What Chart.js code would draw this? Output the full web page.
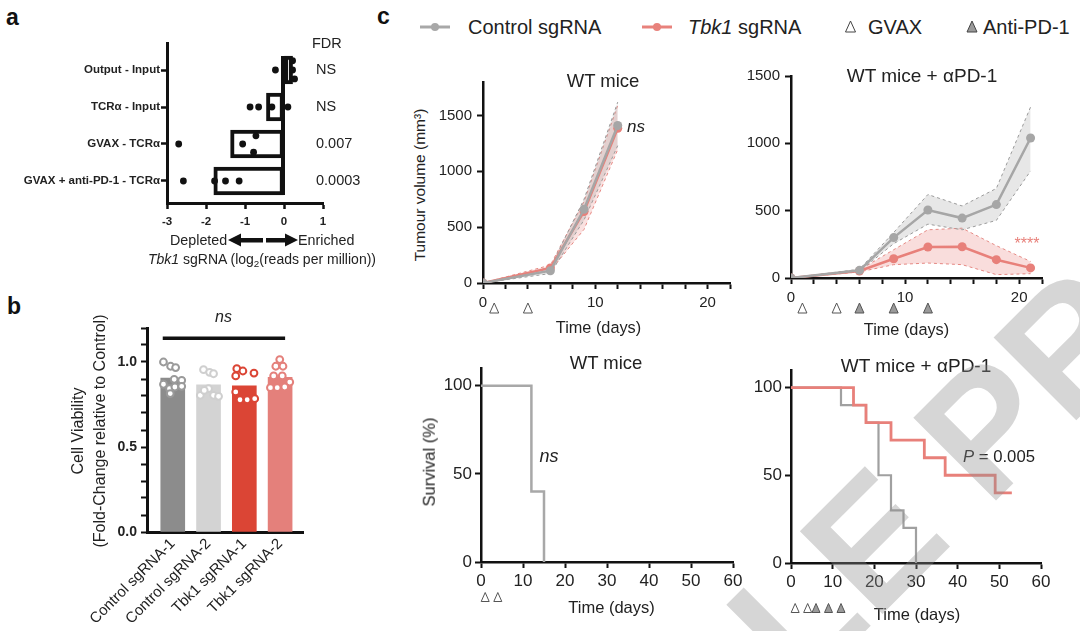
<!DOCTYPE html>
<html><head><meta charset="utf-8">
<script src="https://cdn.jsdelivr.net/npm/chart.js@4.4.1/dist/chart.umd.min.js"></script>
<style>
html,body{margin:0;padding:0;background:#fff;}
#root{position:relative;width:1080px;height:631px;overflow:hidden;font-family:'Liberation Sans',Arial,Helvetica,sans-serif;color:#222;background:#fff;}
canvas{position:absolute;}
.t{position:absolute;white-space:nowrap;line-height:1;}
.c{transform:translate(-50%,-50%);}
.l{transform:translate(0,-50%);}
.r90{transform:translate(-50%,-50%) rotate(-90deg);}
#wm{position:absolute;white-space:nowrap;line-height:1;font-size:170px;font-weight:bold;color:rgba(140,140,140,0.36);transform-origin:0 50%;transform:rotate(-45deg);pointer-events:none;}
</style></head>
<body><div id="root">
<svg id="deco" width="1080" height="631" style="position:absolute;left:0;top:0">
  <polygon points="228,240 241,233.5 241,246.5" fill="#111"/>
  <rect x="240" y="238" width="23" height="4.5" fill="#111"/>
  <rect x="266" y="238" width="20" height="4.5" fill="#111"/>
  <polygon points="298,240 285,233.5 285,246.5" fill="#111"/>
  <line x1="420" y1="27" x2="450" y2="27" stroke="#a8a8a8" stroke-width="3"/>
  <circle cx="435" cy="27" r="4" fill="#a8a8a8"/>
  <line x1="642" y1="27" x2="672" y2="27" stroke="#e8827c" stroke-width="3"/>
  <circle cx="657" cy="27" r="4" fill="#e8827c"/>
  <polygon points="850.5,21 855.5,32 845.5,32" fill="#fff" stroke="#444" stroke-width="1"/>
  <polygon points="972,21 977,32 967,32" fill="#9a9a9a" stroke="#444" stroke-width="1"/>
</svg>
</div>
<script>
// ================= DATA =================
// Panel a
const aRows = ['Output - Input', 'TCRα - Input', 'GVAX - TCRα', 'GVAX + anti-PD-1 - TCRα'];
const aBars = [0.22, -0.45, -1.37, -1.8];
const aFDR = ['NS', 'NS', '0.007', '0.0003'];
const aDotRow    = [1, 1, 1, 1,   2, 2, 2, 2,   3, 3, 3, 3,   4, 4, 4, 4];
const aDotValue  = [-0.22, 0.22, 0.22, 0.27,  -0.87, -0.65, -0.31, 0.1,  -2.7, -1.06, -0.72, -0.78,  -2.58, -1.78, -1.5, -1.15];
const aDotJitter = [0, -0.25, 0, 0.24,  0, 0, 0, 0,  0, 0, -0.22, 0.22,  0, 0, 0, 0];
const aXTicks = [-3, -2, -1, 0, 1];

// Panel b
const bLabels = ['Control sgRNA-1', 'Control sgRNA-2', 'Tbk1 sgRNA-1', 'Tbk1 sgRNA-2'];
const bMeans = [0.906, 0.865, 0.86, 0.91];
const bReps = [
  [1.0, 0.975, 0.967, 0.898, 0.892, 0.869, 0.843, 0.853, 0.857, 0.814],
  [0.955, 0.939, 0.931, 0.804, 0.843, 0.804, 0.798, 0.833],
  [0.961, 0.918, 0.947, 0.935, 0.824, 0.778, 0.778, 0.784],
  [1.014, 0.975, 0.975, 0.918, 0.918, 0.849, 0.849, 0.853, 0.882]
];
const bRepJitter = [
  [-0.26, -0.06, 0.08, 0.04, 0.25, -0.26, -0.09, 0.06, 0.25, -0.07],
  [-0.14, 0.03, 0.14, -0.23, 0, 0.14, 0.28, -0.12],
  [-0.21, -0.24, -0.04, 0.27, -0.24, -0.12, 0.08, 0.29],
  [-0.01, -0.12, 0.08, -0.18, 0.06, -0.27, -0.08, 0.13, 0.27]
];
const bYTicks = [0, 0.1, 0.2, 0.3, 0.4, 0.5, 0.6, 0.7, 0.8, 0.9, 1.0, 1.1, 1.2];

// Panel c - tumour growth, WT mice
const tgDaysWT = [0, 6, 9, 12];
const tgCtrlWT = [0, 110, 660, 1410];
const tgCtrlWTUp = [0, 140, 750, 1620];
const tgCtrlWTLo = [0, 85, 565, 1230];
const tgTbkWT = [0, 135, 640, 1385];
const tgTbkWTUp = [0, 160, 730, 1590];
const tgTbkWTLo = [0, 110, 480, 1195];
// Panel c - tumour growth, WT mice + aPD-1
const tgDaysPD1 = [0, 6, 9, 12, 15, 18, 21];
const tgCtrlPD1 = [0, 57, 300, 505, 445, 545, 1040];
const tgCtrlPD1Up = [0, 65, 338, 620, 535, 665, 1270];
const tgCtrlPD1Lo = [0, 50, 255, 400, 358, 428, 795];
const tgTbkPD1 = [0, 52, 143, 230, 232, 136, 75];
const tgTbkPD1Up = [0, 60, 210, 358, 370, 240, 123];
const tgTbkPD1Lo = [0, 45, 99, 111, 99, 25, 32];
// treatment days
const gvaxDays = [1, 4];
const antiPD1Days = [6, 9, 12];
// survival
const svWTCtrlDays = [0, 12, 15];
const svWTCtrl = [100, 40, 0];
const svPD1CtrlDays = [0, 12, 18, 21, 24, 27, 30];
const svPD1Ctrl = [100, 90, 80, 50, 30, 20, 0];
const svPD1TbkDays = [0, 15, 18, 24, 32, 37, 49, 53];
const svPD1Tbk = [100, 90, 80, 70, 60, 50, 40, 40];
const tgXTicks = [0, 2, 4, 6, 8, 10, 12, 14, 16, 18, 20, 22];
const tgYTicks = [0, 500, 1000, 1500];
const svXTicks = [0, 10, 20, 30, 40, 50, 60];
const svYTicks = [0, 50, 100];

// ================= HELPERS =================
const FF = "'Liberation Sans', Arial, Helvetica, sans-serif";
Chart.defaults.font.family = FF;
Chart.defaults.color = '#222';
const root = document.getElementById('root');
const GREY = '#a6a6a6', RED = '#e8807a';

Chart.register({
  id: 'treat',
  afterDraw(chart, args, o) {
    if (!o || o.dy === undefined) return;
    const ctx = chart.ctx, xs = chart.scales.x, y = chart.chartArea.bottom + o.dy;
    const tri = (d, fill) => {
      const x = xs.getPixelForValue(d);
      ctx.beginPath();
      ctx.moveTo(x, y - o.h / 2); ctx.lineTo(x + o.w / 2, y + o.h / 2); ctx.lineTo(x - o.w / 2, y + o.h / 2);
      ctx.closePath(); ctx.fillStyle = fill; ctx.fill();
      ctx.lineWidth = 1; ctx.strokeStyle = '#555'; ctx.stroke();
    };
    ctx.save();
    (o.open || []).forEach(d => tri(d, '#fff'));
    (o.filled || []).forEach(d => tri(d, '#9a9a9a'));
    ctx.restore();
  }
});

function linScale(o) {
  return {
    type: 'linear', min: o.min, max: o.max, reverse: !!o.reverse, offset: false,
    afterBuildTicks: s => { s.ticks = o.ticks.map(v => ({ value: v })); },
    ticks: {
      callback: o.cb || (v => String(v)), autoSkip: false,
      font: { size: o.fs, weight: o.fw || 'normal', family: FF }, color: '#222',
      padding: o.tp === undefined ? 4 : o.tp, maxRotation: o.rot || 0, minRotation: o.rot || 0
    },
    grid: { display: o.tl > 0, drawOnChartArea: false, drawTicks: true, tickLength: o.tl || 0, tickWidth: o.tw || 2, tickColor: '#111', offset: false },
    border: { display: true, color: '#111', width: o.bw || 2.5 }
  };
}

function makeChart(area, pad, config) {
  const cv = document.createElement('canvas');
  const L = area.l - pad.l, T = area.t - pad.t;
  const W = area.r - area.l + pad.l + pad.r, H = area.b - area.t + pad.t + pad.b;
  cv.width = W; cv.height = H;
  cv.style.left = L + 'px'; cv.style.top = T + 'px'; cv.style.width = W + 'px'; cv.style.height = H + 'px';
  root.appendChild(cv);
  const op = config.options;
  op.responsive = false; op.animation = false; op.devicePixelRatio = 1;
  op.layout = { padding: { left: 0, top: pad.t, right: pad.r, bottom: 0 } };
  op.plugins = Object.assign({ legend: { display: false }, tooltip: { enabled: false } }, op.plugins || {});
  op.scales.x.afterFit = s => { s.height = pad.b; s.paddingLeft = 0; s.paddingRight = 0; };
  op.scales.y.afterFit = s => { s.width = pad.l; s.paddingTop = 0; s.paddingBottom = 0; };
  return new Chart(cv, config);
}

function txt(html, x, y, size, cls, extra) {
  const d = document.createElement('div');
  d.className = 't ' + (cls || 'c');
  d.innerHTML = html;
  d.style.left = x + 'px'; d.style.top = y + 'px'; d.style.fontSize = size + 'px';
  if (extra) d.style.cssText += extra;
  root.appendChild(d);
}
const pts = (xs, ys) => xs.map((x, i) => ({ x: x, y: ys[i] }));

// ================= PANEL A =================
makeChart({ l: 167, t: 43, r: 323, b: 203 }, { l: 160, t: 10, r: 50, b: 30 }, {
  type: 'bar',
  data: { datasets: [
    { type: 'bar', data: aBars.map((v, i) => ({ x: v, y: i + 1 })), backgroundColor: '#fff', borderColor: '#111',
      borderWidth: 4, borderSkipped: false, barThickness: 28, order: 2 },
    { type: 'scatter', data: aDotValue.map((v, i) => ({ x: v, y: aDotRow[i] + aDotJitter[i] })),
      pointRadius: 3.4, backgroundColor: '#111', borderWidth: 0, order: 1 }
  ] },
  options: {
    indexAxis: 'y',
    scales: {
      x: linScale({ min: -3, max: 1, ticks: aXTicks, fs: 11.5, fw: 'bold', tl: 6, tp: 6, bw: 3, tw: 2.5 }),
      y: linScale({ min: 0.27, max: 4.595, reverse: true, ticks: [1, 2, 3, 4], cb: v => aRows[v - 1], fs: 11.5, fw: 'bold', tl: 6, tp: 1, bw: 3, tw: 2.5 })
    }
  },
  plugins: [{ id: 'aExtra', afterDatasetsDraw(chart) {
    const { ctx, scales: { x, y }, chartArea } = chart;
    ctx.save();
    ctx.strokeStyle = '#111'; ctx.lineWidth = 4;
    const x0 = x.getPixelForValue(0) - 1;
    ctx.beginPath(); ctx.moveTo(x0, y.getPixelForValue(1) - 14); ctx.lineTo(x0, y.getPixelForValue(aRows.length) + 14); ctx.stroke();
    ctx.fillStyle = '#222'; ctx.font = '14.5px ' + FF; ctx.textBaseline = 'middle'; ctx.textAlign = 'left';
    ctx.fillText('FDR', chartArea.right - 11, chartArea.top + 1);
    aFDR.forEach((t, i) => ctx.fillText(t, chartArea.right - 7, y.getPixelForValue(i + 1)));
    ctx.restore();
  } }]
});

// ================= PANEL B =================
const bColors = ['#8c8c8c', '#d3d3d3', '#db4535', '#e4807b'];
const bDotColors = ['#9a9a9a', '#cfcfcf', '#db4535', '#e4807b'];
makeChart({ l: 147, t: 328, r: 303, b: 532 }, { l: 87, t: 10, r: 12, b: 99 }, {
  type: 'bar',
  data: { datasets: [
    { type: 'bar', data: bMeans.map((v, i) => ({ x: i + 1, y: v })), backgroundColor: bColors, borderWidth: 0, barThickness: 24, order: 2 }
  ].concat(bReps.map((arr, g) => ({
    type: 'scatter', data: arr.map((v, k) => ({ x: g + 1 + bRepJitter[g][k], y: v })),
    pointRadius: 3.4, borderWidth: 2, borderColor: bDotColors[g], backgroundColor: '#fff', order: 1
  }))) },
  options: {
    scales: {
      x: linScale({ min: 0.28, max: 4.64, ticks: [1, 2, 3, 4], cb: v => bLabels[v - 1], fs: 15, rot: 45, tl: 0, tp: 3, bw: 3 }),
      y: linScale({ min: 0, max: 1.2, ticks: bYTicks, fs: 14, fw: 'bold', tl: 6, tp: 4, bw: 3, tw: 2,
        cb: v => ([0, 0.5, 1].some(m => Math.abs(v - m) < 1e-9) ? v.toFixed(1) : '') })
    }
  },
  plugins: [{ id: 'bLine', afterDatasetsDraw(chart) {
    const { ctx, scales: { x, y } } = chart;
    ctx.save(); ctx.strokeStyle = '#111'; ctx.lineWidth = 3.5;
    ctx.beginPath(); ctx.moveTo(x.getPixelForValue(0.72), y.getPixelForValue(1.14)); ctx.lineTo(x.getPixelForValue(4.14), y.getPixelForValue(1.14)); ctx.stroke();
    ctx.restore();
  } }]
});

// ================= PANEL C =================
function band(days, up, lo, color, fillc) {
  return [
    { data: pts(days, up), borderColor: color, borderWidth: 1, borderDash: [3, 3], pointRadius: 0, fill: '+1', backgroundColor: fillc, order: 5 },
    { data: pts(days, lo), borderColor: color, borderWidth: 1, borderDash: [3, 3], pointRadius: 0, fill: false, order: 5 }
  ];
}
function meanLine(days, vals, color, order) {
  return { data: pts(days, vals), borderColor: color, borderWidth: 2.5, pointRadius: 4.5, pointBackgroundColor: color, pointBorderWidth: 0, fill: false, order: order };
}
const tgX = () => linScale({ min: 0, max: 22, ticks: tgXTicks, cb: v => (v % 10 === 0 ? String(v) : ''), fs: 15, tl: 6, tp: 5, bw: 2.5 });

makeChart({ l: 483, t: 82, r: 730, b: 283 }, { l: 53, t: 10, r: 18, b: 37 }, {
  type: 'line',
  data: { datasets: [
    ...band(tgDaysWT, tgCtrlWTUp, tgCtrlWTLo, '#9a9a9a', 'rgba(160,160,160,0.25)'),
    ...band(tgDaysWT, tgTbkWTUp, tgTbkWTLo, '#e58a85', 'rgba(230,120,115,0.22)'),
    meanLine(tgDaysWT, tgTbkWT, RED, 2),
    meanLine(tgDaysWT, tgCtrlWT, GREY, 1)
  ] },
  options: {
    scales: { x: tgX(), y: linScale({ min: 0, max: 1800, ticks: tgYTicks, fs: 15, tl: 6, tp: 5, bw: 2.5 }) },
    plugins: { treat: { open: gvaxDays, filled: [], dy: 25, w: 9, h: 10 } }
  }
});

makeChart({ l: 791, t: 76, r: 1042, b: 278 }, { l: 51, t: 10, r: 28, b: 42 }, {
  type: 'line',
  data: { datasets: [
    ...band(tgDaysPD1, tgCtrlPD1Up, tgCtrlPD1Lo, '#9a9a9a', 'rgba(160,160,160,0.25)'),
    ...band(tgDaysPD1, tgTbkPD1Up, tgTbkPD1Lo, '#e58a85', 'rgba(230,120,115,0.25)'),
    meanLine(tgDaysPD1, tgTbkPD1, RED, 2),
    meanLine(tgDaysPD1, tgCtrlPD1, GREY, 1)
  ] },
  options: {
    scales: { x: tgX(), y: linScale({ min: 0, max: 1500, ticks: tgYTicks, fs: 15, tl: 6, tp: 5, bw: 2.5 }) },
    plugins: { treat: { open: gvaxDays, filled: antiPD1Days, dy: 30, w: 9, h: 10 } }
  }
});

function survLine(days, vals, color, w) {
  return { data: pts(days, vals), stepped: 'before', borderColor: color, borderWidth: w, pointRadius: 0, fill: false };
}
const svX = () => linScale({ min: 0, max: 60, ticks: svXTicks, fs: 17, tl: 6, tp: 3, bw: 2.5 });

makeChart({ l: 481, t: 368, r: 733, b: 562 }, { l: 51, t: 10, r: 17, b: 69 }, {
  type: 'line',
  data: { datasets: [ survLine(svWTCtrlDays, svWTCtrl, '#a8a8a8', 2.5) ] },
  options: {
    scales: { x: svX(), y: linScale({ min: 0, max: 110, ticks: svYTicks, fs: 17, tl: 6, tp: 3, bw: 2.5 }) },
    plugins: { treat: { open: gvaxDays, filled: [], dy: 35, w: 8, h: 9 } }
  }
});

makeChart({ l: 791, t: 370, r: 1041, b: 563 }, { l: 51, t: 10, r: 34, b: 68 }, {
  type: 'line',
  data: { datasets: [ survLine(svPD1TbkDays, svPD1Tbk, RED, 2.8), survLine(svPD1CtrlDays, svPD1Ctrl, '#a0a0a0', 2.2) ] },
  options: {
    scales: { x: svX(), y: linScale({ min: 0, max: 110, ticks: svYTicks, fs: 17, tl: 6, tp: 3, bw: 2.5 }) },
    plugins: { treat: { open: gvaxDays, filled: antiPD1Days, dy: 45, w: 8, h: 9 } }
  }
});

// ================= TEXT =================
txt('a', 6, 17, 23, 'l', 'font-weight:bold;color:#111');
txt('b', 7, 306, 23, 'l', 'font-weight:bold;color:#111');
txt('c', 377, 16, 23, 'l', 'font-weight:bold;color:#111');
// legend
txt('Control sgRNA', 468, 27, 20, 'l');
txt('<i>Tbk1</i> sgRNA', 688, 27, 20, 'l');
txt('GVAX', 868, 27, 20, 'l');
txt('Anti-PD-1', 983, 27, 20, 'l');
// panel a
txt('Depleted', 170, 240, 14.3, 'l');
txt('Enriched', 298, 240, 14.3, 'l');
txt('<i>Tbk1</i> sgRNA (log<span style="font-size:0.7em;vertical-align:-0.3em;line-height:0">2</span>(reads per million))', 262, 259, 14, 'c');
// panel b
txt('<i>ns</i>', 223.5, 317, 16, 'c');
txt('Cell Viability', 78, 431, 16, 'r90');
txt('(Fold-Change relative to Control)', 100, 431, 16, 'r90');
// panel c
txt('WT mice', 603, 81, 18.5, 'c');
txt('<i>ns</i>', 636, 125.5, 17, 'c');
txt('Tumour volume (mm³)', 420, 185, 15.5, 'r90');
txt('Time (days)', 598.5, 327, 16.3, 'c');
txt('WT mice + αPD-1', 922, 75, 19, 'c');
txt('****', 1027, 244, 16, 'c', 'color:#e8807a');
txt('Time (days)', 906.5, 329, 16.3, 'c');
txt('WT mice', 606, 363, 18.5, 'c');
txt('<i>ns</i>', 549, 455.5, 18, 'c');
txt('Survival (%)', 429, 462, 16.5, 'r90');
txt('Time (days)', 611.5, 607, 16.5, 'c');
txt('WT mice + αPD-1', 916, 365, 19, 'c');
txt('<i>P</i> = 0.005', 999, 457, 16.7, 'c');
txt('Time (days)', 917, 614, 16.5, 'c');
// watermark
const wm = document.createElement('div');
wm.id = 'wm'; wm.textContent = 'ARTICLE PREVIEW';
wm.style.left = '392px'; wm.style.top = (1021 - 85) + 'px';
root.appendChild(wm);
</script>
</body></html>
